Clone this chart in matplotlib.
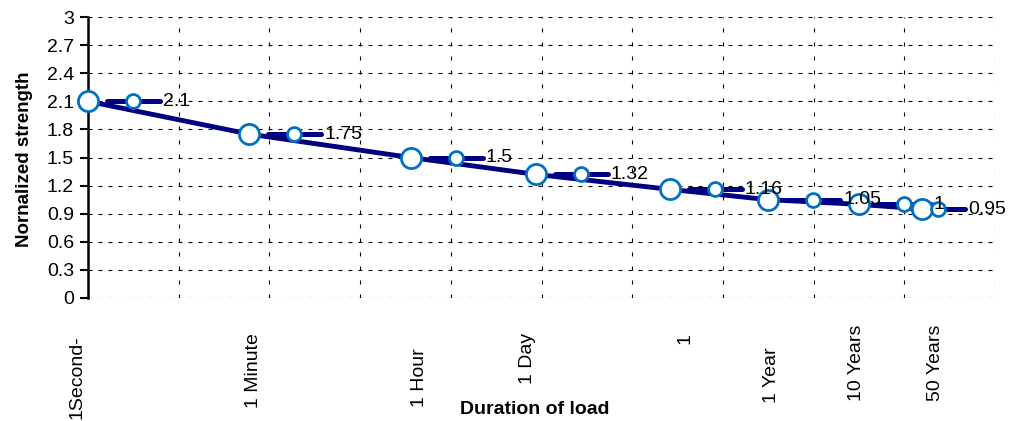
import matplotlib
matplotlib.use('Agg')
import matplotlib.pyplot as plt
import matplotlib.transforms as mtransforms
import numpy as np

plt.rcParams['font.family'] = ['Liberation Sans', 'DejaVu Sans']

# load duration in seconds (x is plotted as log10 of this)
durations_s = [1, 60, 3600, 86400, 2.6e6, 3.15e7, 3.15e8, 1.58e9]
strength = [2.1, 1.75, 1.5, 1.32, 1.16, 1.05, 1.0, 0.95]
value_labels = ['2.1', '1.75', '1.5', '1.32', '1.16', '1.05', '1', '0.95']
duration_labels = ['1Second-', '1 Minute', '1 Hour', '1 Day', '1', '1 Year', '10 Years', '50 Years']
yticks = [0, 0.3, 0.6, 0.9, 1.2, 1.5, 1.8, 2.1, 2.4, 2.7, 3]

# layout of hand-placed category labels: x (data units), top edge (px from top)
lab_x = [-0.12, 1.82, 3.66, 4.85, 6.58, 7.54, 8.47, 9.34]
lab_top = [335, 333, 348, 333, 333, 347, 325, 325]
# shift of the data-label box (px), last one was nudged left
key_shift = [0, 0, 0, 0, 0, 0, 0, -29]

NAVY = '#000080'
BLUE = '#0070C0'

W, H = 1016, 421
fig = plt.figure(figsize=(W / 100, H / 100), dpi=100)
ax = fig.add_axes([88 / W, 1 - 298 / H, (995 - 88) / W, (298 - 17) / H])

x = np.log10(durations_s)
ax.plot(x, strength, '-', color=NAVY, lw=3.5, zorder=3, clip_on=False)
ax.plot(x, strength, 'o', ms=14.5, mfc='white', mec=BLUE, mew=2, zorder=5, clip_on=False)

ax.set_xlim(0, 10)
ax.set_ylim(0, 3)
ax.set_yticks(yticks)
ax.set_yticklabels(['%g' % v for v in yticks])
ax.set_xticks(np.arange(0, 11))
ax.tick_params(axis='x', length=0, labelbottom=False)
ax.tick_params(axis='y', direction='out', length=6, width=1.5, labelsize=14, pad=4)
for s in ['top', 'right', 'bottom']:
    ax.spines[s].set_visible(False)
ax.spines['left'].set_linewidth(1.8)
ax.spines['left'].set_zorder(4)

ax.grid(axis='y', color='black', lw=0.8, linestyle=(0, (3.6, 5.4)))
ax.grid(axis='x', color='black', lw=0.8, linestyle=(0, (3.6, 9)))
ax.set_axisbelow(True)

# data labels with legend key (line + marker + value)
px = 72 / fig.dpi
for xi, yi, lab, sh in zip(x, strength, value_labels, key_shift):
    tr = mtransforms.Affine2D().scale(fig.dpi / 72) + mtransforms.ScaledTranslation(xi, yi, ax.transData)
    ax.plot([(19 + sh) * px, (72 + sh) * px], [0, 0], '-', color=NAVY, lw=3.6,
            transform=tr, clip_on=False, zorder=4, solid_capstyle='round')
    ax.plot([(45 + sh) * px], [0], 'o', ms=10, mfc='white', mec=BLUE, mew=2,
            transform=tr, clip_on=False, zorder=6)
    ax.text((75 + sh) * px, 0, lab, transform=tr, fontsize=14, va='center', ha='left', zorder=7)

# category labels under the plot
for lx, lt, lab in zip(lab_x, lab_top, duration_labels):
    tr = mtransforms.blended_transform_factory(ax.transData, fig.transFigure)
    ax.text(lx, 1 - lt / H, lab, transform=tr, rotation=90, fontsize=14,
            ha='center', va='top', rotation_mode='default', clip_on=False)

fig.text(535 / W, 1 - 409 / H, 'Duration of load', fontsize=14, fontweight='bold',
         ha='center', va='center')
fig.text(25 / W, 1 - 159 / H, 'Nornalized strength', fontsize=13.5, fontweight='bold',
         ha='center', va='center', rotation=90)

fig.savefig('out.png', dpi=100)
